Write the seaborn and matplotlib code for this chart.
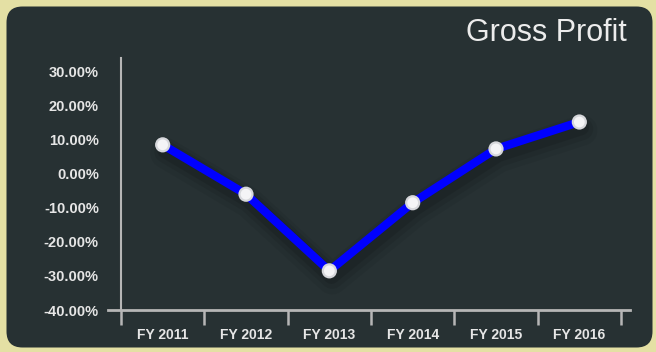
import matplotlib
matplotlib.use("Agg")
import matplotlib.pyplot as plt
import numpy as np
import pandas as pd
import seaborn as sns
from matplotlib.patches import FancyBboxPatch
from matplotlib import patheffects as pe
from matplotlib.ticker import FixedLocator, FuncFormatter

# Gross profit growth per fiscal year (percent)
years = ["FY 2011", "FY 2012", "FY 2013", "FY 2014", "FY 2015", "FY 2016"]
gross_profit_pct = [8.5, -6.0, -28.5, -8.5, 7.3, 15.2]
y_ticks = [-40, -30, -20, -10, 0, 10, 20, 30]

df = pd.DataFrame({"year": years, "gross_profit": gross_profit_pct})

sns.set_style("dark")
plt.rcParams["font.family"] = ["Liberation Sans", "DejaVu Sans"]
plt.rcParams["font.weight"] = "bold"

PANEL = "#273133"
TEXT = "#e6e6e6"
AXIS = "#b6b6b6"

fig = plt.figure(figsize=(6.56, 3.52), dpi=100)
fig.patch.set_facecolor("#e4e0a4")

# rounded dark card behind the chart
panel = FancyBboxPatch((0.065, 0.045), 6.46, 3.41,
                       boxstyle="round,pad=0,rounding_size=0.16",
                       transform=fig.dpi_scale_trans,
                       facecolor=PANEL, edgecolor="none", zorder=-5)
fig.patches.append(panel)

ax = fig.add_axes([108 / 656, 1 - 310 / 352, (630 - 108) / 656, (310 - 58) / 352])
ax.set_zorder(2)
ax.set_facecolor("none")
ax.grid(False)

# soft drop shadow under the line
shadow = [
    pe.SimpleLineShadow(offset=(2, -6), shadow_color="black", alpha=0.06, linewidth=22),
    pe.SimpleLineShadow(offset=(2, -5), shadow_color="black", alpha=0.08, linewidth=16),
    pe.SimpleLineShadow(offset=(1.5, -4), shadow_color="black", alpha=0.10, linewidth=11),
    pe.Normal(),
]
sns.lineplot(data=df, x="year", y="gross_profit", ax=ax, color="#0000ff",
             linewidth=6, sort=False, zorder=3,
             path_effects=shadow, solid_joinstyle="round", solid_capstyle="round")
sns.scatterplot(data=df, x="year", y="gross_profit", ax=ax, s=120,
                color="#d6d7db", edgecolor="none", zorder=4)
sns.scatterplot(data=df, x="year", y="gross_profit", ax=ax, s=60,
                color="#f4f4f6", edgecolor="none", zorder=5)

ax.set_xlim(-0.5 - 13 / 83.3, 5.5 + 9 / 83.3)
ax.set_ylim(-40, 34)
ax.set_xlabel("")
ax.set_ylabel("")

ax.set_xticks(range(len(years)))
ax.set_xticklabels(years)
ax.xaxis.set_minor_locator(FixedLocator(np.arange(-0.5, len(years), 1.0)))
ax.tick_params(axis="x", which="major", length=0, pad=13,
               labelsize=10, labelcolor=TEXT)
ax.tick_params(axis="x", which="minor", length=11, width=1.8, color=AXIS,
               direction="out", bottom=True)

ax.set_yticks(y_ticks)
ax.yaxis.set_major_formatter(FuncFormatter(lambda v, _: f"{v:.2f}%"))
ax.tick_params(axis="y", length=0, pad=16, labelsize=10.5, labelcolor=TEXT)

for side in ("top", "right"):
    ax.spines[side].set_visible(False)
ax.spines["left"].set_position(("data", -0.5))
ax.spines["left"].set_color(AXIS)
ax.spines["left"].set_linewidth(1.5)
ax.spines["bottom"].set_color(AXIS)
ax.spines["bottom"].set_linewidth(2)

fig.text(627 / 656, 1 - 33 / 352, "Gross Profit", ha="right", va="center",
         fontsize=22, fontweight="normal", color="#ececec")

fig.savefig("out.png", dpi=100, facecolor=fig.get_facecolor())
